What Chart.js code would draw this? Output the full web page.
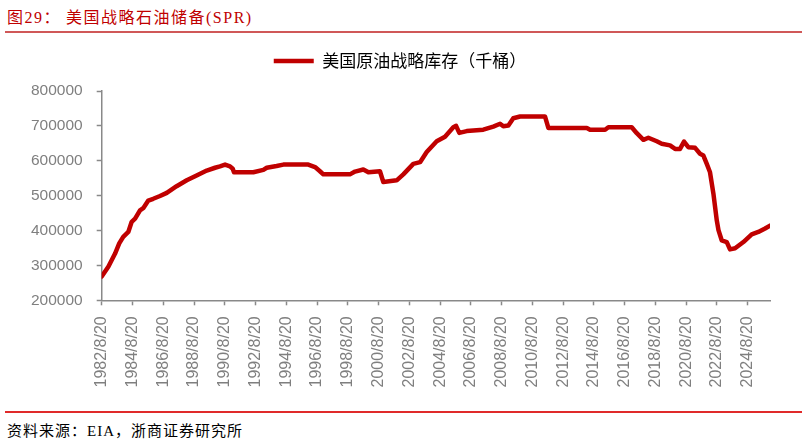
<!DOCTYPE html>
<html>
<head>
<meta charset="utf-8">
<script src="https://cdn.jsdelivr.net/npm/chart.js@4/dist/chart.umd.min.js"></script>
<style>
  html, body { margin: 0; padding: 0; background: #fff; }
  #page { position: relative; width: 802px; height: 443px; overflow: hidden; }
  .title { position: absolute; top: 4px; font: 16px "Liberation Serif", "Noto Sans CJK SC", serif; color: #C00000; letter-spacing: 1.5px; white-space: nowrap; }
  #rule-top { position: absolute; left: 5px; right: 0; top: 31px; height: 2px; background: #D05858; }
  #rule-bottom { position: absolute; left: 5px; right: 0; top: 411px; height: 1.5px; background: #E02A2A; }
  #source { position: absolute; left: 7px; top: 419px; font: 15px "Liberation Serif", "Noto Sans CJK SC", serif; color: #000; letter-spacing: 1px; white-space: nowrap; }
  #wrap { position: absolute; left: 30px; top: 40px; width: 772px; height: 370px; }
</style>
</head>
<body>
<div id="page">
  <div class="title" style="left:7px">图29：</div>
  <div class="title" style="left:66px">美国战略石油储备(SPR)</div>
  <div id="rule-top"></div>
  <div id="wrap"><canvas id="spr"></canvas></div>
  <div id="rule-bottom"></div>
  <div id="source">资料来源：EIA，浙商证券研究所</div>
</div>
<script>
'use strict';

// weekly SPR stock (decimal year, thousand barrels)
const dates = [
  1982.63, 1983.06, 1983.50, 1983.77, 1984.03, 1984.36, 1984.58, 1984.80,
  1985.12, 1985.33, 1985.66, 1985.98, 1986.42, 1986.86, 1987.50, 1988.16,
  1988.80, 1989.46, 1990.00, 1990.32, 1990.65, 1990.97, 1991.15, 1991.23,
  1992.49, 1993.14, 1993.36, 1994.00, 1994.44, 1996.06, 1996.50, 1996.82,
  1997.04, 1998.77, 1999.10, 1999.64, 1999.97, 2000.72, 2000.94, 2001.81,
  2002.24, 2002.89, 2003.33, 2003.76, 2004.41, 2004.95, 2005.49, 2005.67,
  2005.88, 2006.36, 2007.44, 2008.09, 2008.53, 2008.74, 2009.07, 2009.39,
  2009.83, 2011.45, 2011.67, 2014.17, 2014.38, 2015.36, 2015.57, 2017.09,
  2017.42, 2017.85, 2018.17, 2018.72, 2019.04, 2019.58, 2019.91, 2020.23,
  2020.49, 2020.77, 2021.21, 2021.53, 2021.75, 2021.97, 2022.18, 2022.40,
  2022.62, 2022.73, 2022.94, 2023.27, 2023.48, 2023.81, 2024.35, 2024.89,
  2025.32, 2025.76, 2026.08
];
const stock = [
  268000, 296000, 334000, 363000, 382000, 396000, 425000, 434000,
  458000, 464000, 486000, 491000, 499000, 508000, 527000, 544000,
  558000, 572000, 580000, 584000, 589000, 584000, 577000, 567000,
  567000, 574000, 580000, 585000, 589000, 589000, 582000, 570000,
  561000, 561000, 569000, 575000, 567000, 570000, 539000, 544000,
  561000, 591000, 596000, 625000, 656000, 669000, 696000, 700000,
  680000, 685000, 689000, 698000, 706000, 699000, 701000, 722000,
  727000, 727000, 694000, 694000, 689000, 689000, 696000, 696000,
  679000, 660000, 666000, 656000, 649000, 644000, 634000, 634000,
  655000, 639000, 637000, 620000, 615000, 591000, 567000, 506000,
  429000, 401000, 372000, 367000, 346000, 349000, 367000, 389000,
  396000, 406000, 414000
];
const tickYears = [1982, 1984, 1986, 1988, 1990, 1992, 1994, 1996, 1998, 2000, 2002,
                   2004, 2006, 2008, 2010, 2012, 2014, 2016, 2018, 2020, 2022, 2024];
const seriesName = '美国原油战略库存（千桶）';

const AUG20 = 0.632;   // Aug 20 as a fraction of the year
const AXIS_GREY = '#898989';
const LABEL_GREY = '#7f7f7f';

new Chart(document.getElementById('spr').getContext('2d'), {
  type: 'line',
  data: {
    datasets: [{
      label: seriesName,
      data: dates.map((d, i) => ({ x: d, y: stock[i] })),
      borderColor: '#C00000',
      backgroundColor: '#C00000',
      borderWidth: 4.5,
      borderJoinStyle: 'round',
      borderCapStyle: 'round',
      pointRadius: 0,
      tension: 0,
      fill: false,
    }]
  },
  options: {
    responsive: true,
    maintainAspectRatio: false,
    animation: false,
    layout: { padding: { top: 2.5, right: 32, bottom: 0, left: 0 } },
    plugins: {
      tooltip: { enabled: false },
      legend: {
        position: 'top',
        labels: {
          usePointStyle: true,
          pointStyle: 'line',
          pointStyleWidth: 40,
          padding: 10,
          color: '#000',
          font: { family: '"Noto Sans CJK SC"', size: 17 },
        }
      }
    },
    scales: {
      x: {
        type: 'linear',
        min: dates[0],
        max: dates[dates.length - 1],
        afterBuildTicks: s => { s.ticks = tickYears.map(y => ({ value: y + AUG20 })); },
        afterFit: s => { s.height = 109.7; },
        grid: { drawOnChartArea: false, color: AXIS_GREY, tickLength: 5, tickWidth: 1.5 },
        border: { color: AXIS_GREY, width: 1.5 },
        ticks: {
          autoSkip: false,
          minRotation: 90,
          maxRotation: 90,
          padding: 11,
          color: LABEL_GREY,
          font: { family: '"Liberation Sans"', size: 16 },
          callback: (v, i) => tickYears[i] + '/8/20',
        }
      },
      // empty spacer between legend and plot area
      xTop: {
        type: 'linear',
        position: 'top',
        grid: { display: false },
        border: { display: false },
        ticks: { display: false },
        afterFit: s => { s.height = 11.5; },
      },
      y: {
        min: 200000,
        max: 800000,
        afterFit: s => { s.width = 71.7; },
        grid: { drawOnChartArea: false, color: AXIS_GREY, tickLength: 5, tickWidth: 1.5 },
        border: { color: AXIS_GREY, width: 1.5 },
        ticks: {
          stepSize: 100000,
          padding: 14,
          color: LABEL_GREY,
          font: { family: '"Liberation Sans"', size: 15.5 },
          callback: v => String(v),
        }
      }
    }
  }
});
</script>
</body>
</html>
